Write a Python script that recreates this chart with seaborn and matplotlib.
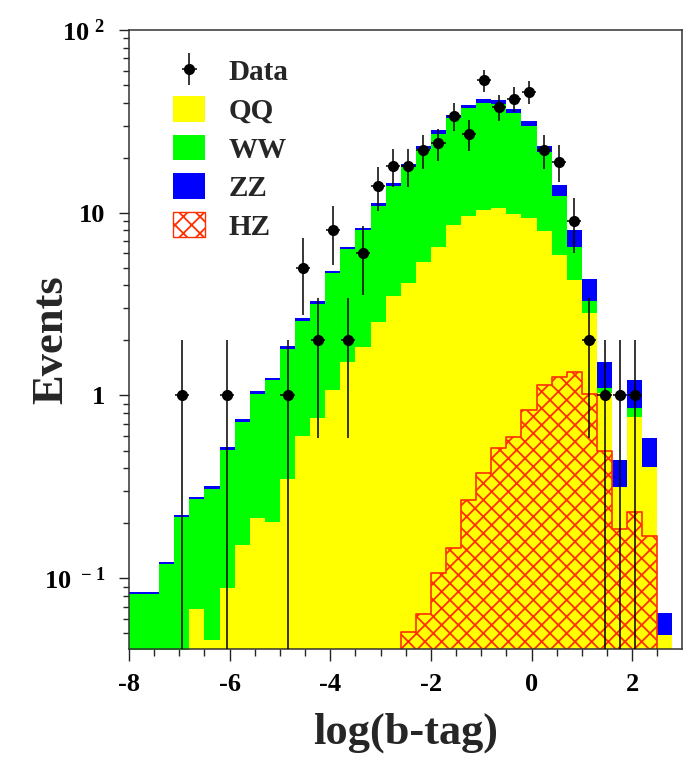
#!/usr/bin/env python3
"""plot.py - stacked log(b-tag) distribution: QQ / WW / ZZ backgrounds, HZ signal, data."""
import matplotlib
import numpy as np
import pandas as pd

matplotlib.use("Agg")  # headless
import matplotlib.patches as mpatches  # noqa: E402
import matplotlib.pyplot as plt  # noqa: E402
import seaborn as sns  # noqa: E402
from matplotlib.container import ErrorbarContainer  # noqa: E402
from matplotlib.legend_handler import HandlerErrorbar  # noqa: E402
from matplotlib.ticker import (FixedFormatter, FixedLocator,  # noqa: E402
                               LogLocator, MultipleLocator, NullFormatter)

# 36 bins of width 0.3 from -8.0 to 2.8
bin_edges = [round(-8.0 + 0.3 * i, 2) for i in range(37)]

qq = [0.02, 0.02, 0.025, 0.03, 0.068, 0.046, 0.088, 0.152, 0.214, 0.204,
      0.349, 0.60, 0.75, 1.07, 1.53, 1.85, 2.54, 3.5, 4.15, 5.4,
      6.49, 8.6, 9.55, 10.3, 10.6, 9.88, 9.35, 7.9, 5.89, 4.29,
      2.82, 1.03, 0.316, 0.765, 0.407, 0.0487]
ww = [0.062, 0.062, 0.095, 0.187, 0.202, 0.262, 0.418, 0.566, 0.81, 1.004,
      1.458, 1.95, 2.41, 3.60, 4.78, 6.17, 8.36, 10.5, 13.55, 16.8,
      20.5, 24.4, 27.95, 29.6, 28.8, 25.3, 20.45, 13.5, 6.41, 2.2,
      0.45, 0.065, 0.0, 0.086, 0.0, 0.0]
zz = [0.002, 0.002, 0.003, 0.006, 0.009, 0.011, 0.018, 0.025, 0.036, 0.042,
      0.063, 0.09, 0.11, 0.16, 0.22, 0.28, 0.4, 0.6, 0.8, 1.0,
      1.2, 1.4, 1.6, 2.1, 1.8, 1.8, 1.9, 1.7, 1.9, 1.58,
      1.06, 0.435, 0.127, 0.37, 0.176, 0.016]
hz = [0, 0, 0, 0, 0, 0, 0, 0, 0, 0,
      0, 0, 0, 0, 0, 0, 0, 0, 0.051, 0.064,
      0.107, 0.147, 0.268, 0.377, 0.513, 0.595, 0.833, 1.14, 1.26, 1.35,
      1.02, 0.50, 0.185, 0.231, 0.17, 0]
data = [0, 0, 0, 1, 0, 0, 1, 0, 0, 0,
        1, 5, 2, 8, 2, 6, 14, 18, 18, 22,
        24, 34, 27, 53, 38, 42, 46, 22, 19, 9,
        2, 1, 1, 1, 0, 0]

process_colours = {"QQ": "#ffff00", "WW": "#00ff00", "ZZ": "#0000ff"}
HZ_COLOUR = "#ff3000"
HATCH_COLOUR = "#ff5a00"

x_ticks = [-8, -6, -4, -2, 0, 2]
x_tick_labels = ["-8", "-6", "-4", "-2", "0", "2"]
y_ticks = [0.1, 1, 10, 100]
y_tick_labels = [r"$10^{\ -1}$", "1", "10", r"$10^{\ 2}$"]

edges_arr = np.asarray(bin_edges)
centers = (edges_arr[:-1] + edges_arr[1:]) / 2

sns.set_theme(style="ticks")
plt.rcParams["font.family"] = ["Liberation Serif", "DejaVu Serif"]
plt.rcParams["font.weight"] = "bold"
plt.rcParams["mathtext.default"] = "regular"
plt.rcParams["axes.unicode_minus"] = False
plt.rcParams["hatch.color"] = HATCH_COLOUR
plt.rcParams["hatch.linewidth"] = 1.3

fig = plt.figure(figsize=(6.86, 7.62), dpi=100)
ax = fig.add_axes([129 / 686, 1 - 649 / 762, 552.5 / 686, 619 / 762])

# stacked backgrounds (seaborn stacks the last hue level at the bottom)
n = len(centers)
bg = pd.DataFrame({
    "x": np.tile(centers, 3),
    "events": np.concatenate([zz, ww, qq]),
    "process": ["ZZ"] * n + ["WW"] * n + ["QQ"] * n,
})
sns.histplot(data=bg, x="x", weights="events", hue="process",
             hue_order=["ZZ", "WW", "QQ"], palette=process_colours,
             bins=bin_edges, multiple="stack", element="step", fill=True,
             alpha=1.0, linewidth=0, legend=False, ax=ax)

# HZ signal, hatched, not stacked
sig = pd.DataFrame({"x": centers, "events": hz})
sns.histplot(data=sig, x="x", weights="events", bins=bin_edges,
             element="step", fill=True, color=HZ_COLOUR, facecolor="none",
             edgecolor=HZ_COLOUR, hatch="xx", linewidth=1.2, legend=False, ax=ax)

ax.set_yscale("log")

# data points with sqrt(N) errors
data_arr = np.asarray(data, dtype=float)
mask = data_arr > 0
eb = ax.errorbar(centers[mask], data_arr[mask], yerr=np.sqrt(data_arr[mask]),
                 xerr=0.14, fmt="o", color="black", markersize=7,
                 elinewidth=1.1, capsize=0, zorder=5)

ax.set_xlim(-8.0, 2.98)
ax.set_ylim(0.041, 100)

ax.xaxis.set_major_locator(FixedLocator(x_ticks))
ax.xaxis.set_major_formatter(FixedFormatter(x_tick_labels))
ax.xaxis.set_minor_locator(MultipleLocator(0.5))
ax.yaxis.set_major_locator(FixedLocator(y_ticks))
ax.yaxis.set_major_formatter(FixedFormatter(y_tick_labels))
ax.yaxis.set_minor_locator(LogLocator(base=10, subs=np.arange(2, 10)))
ax.yaxis.set_minor_formatter(NullFormatter())

ax.tick_params(axis="x", which="major", length=8.5, width=1.0, pad=9,
               labelsize=19, direction="out", colors="#222222")
ax.tick_params(axis="x", which="minor", length=5, width=1.0, direction="out")
ax.tick_params(axis="y", which="major", length=7, width=1.0, pad=10,
               labelsize=19, direction="out", colors="#222222")
ax.tick_params(axis="y", which="minor", length=4.5, width=1.0, direction="out")
for lbl in ax.get_xticklabels() + ax.get_yticklabels():
    lbl.set_fontweight("bold")
    lbl.set_color("black")

for side in ["left", "right", "top", "bottom"]:
    ax.spines[side].set_visible(True)
    ax.spines[side].set_color("#333333")
    ax.spines[side].set_linewidth(1.1)

ax.set_xlabel("log(b-tag)", fontsize=32, fontweight="bold", labelpad=12)
ax.set_ylabel("Events", fontsize=32, fontweight="bold")
ax.yaxis.set_label_coords(-0.105, 0.5)

handles = [
    eb,
    mpatches.Patch(facecolor=process_colours["QQ"], edgecolor="none"),
    mpatches.Patch(facecolor=process_colours["WW"], edgecolor="none"),
    mpatches.Patch(facecolor=process_colours["ZZ"], edgecolor="none"),
    mpatches.Patch(facecolor="white", edgecolor=HZ_COLOUR, hatch="xx", linewidth=1.0),
]
ax.legend(handles, ["Data", "QQ", "WW", "ZZ", "HZ"], loc="upper left",
          bbox_to_anchor=(0.08, 0.955), frameon=False, borderpad=0,
          borderaxespad=0, handlelength=1.1, handleheight=0.95,
          handletextpad=0.8, labelspacing=0.34,
          prop={"family": ["Liberation Serif"], "weight": "bold", "size": 21},
          handler_map={ErrorbarContainer: HandlerErrorbar(xerr_size=0.25, yerr_size=0.55)})

fig.savefig("out.png", dpi=100)
plt.close(fig)
